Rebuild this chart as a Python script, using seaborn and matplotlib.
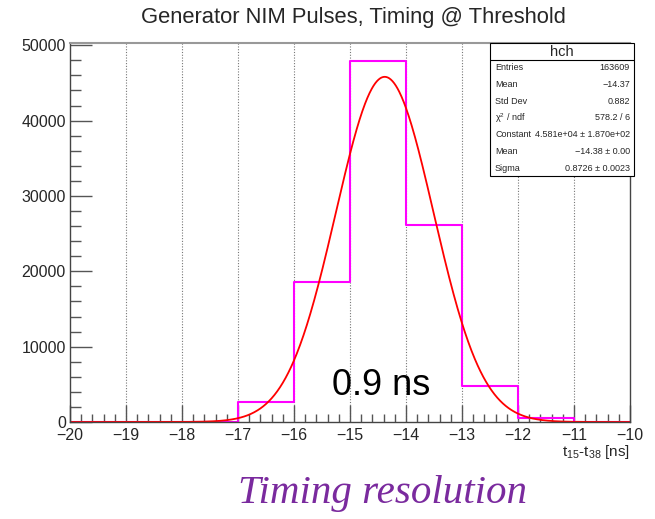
import numpy as np
import pandas as pd
import matplotlib
matplotlib.use("Agg")
import matplotlib.pyplot as plt
from matplotlib.ticker import MultipleLocator, FixedLocator
from matplotlib.patches import Rectangle
import seaborn as sns

# ---- data ----
bin_left = [-20, -19, -18, -17, -16, -15, -14, -13, -12, -11]
bin_counts = [0, 0, 60, 2700, 18600, 47900, 26150, 4750, 480, 0]
bin_edges = [-20, -19, -18, -17, -16, -15, -14, -13, -12, -11, -10]

fit_constant = 4.581e4
fit_mean = -14.38
fit_sigma = 0.8726

stats_labels = ["Entries", "Mean", "Std Dev", "\u03c7$^{2}$ / ndf", "Constant", "Mean", "Sigma"]
stats_values = ["163609", "\u221214.37", "0.882", "578.2 / 6",
                "4.581e+04 \u00b1 1.870e+02", "\u221214.38 \u00b1 0.00", "0.8726 \u00b1 0.0023"]

x_ticks = [-20, -19, -18, -17, -16, -15, -14, -13, -12, -11, -10]
y_ticks = [0, 10000, 20000, 30000, 40000, 50000]

sns.set_style("white")
plt.rcParams["font.family"] = ["Liberation Sans", "DejaVu Sans"]
plt.rcParams["mathtext.fontset"] = "custom"
plt.rcParams["mathtext.rm"] = "Liberation Sans"
plt.rcParams["mathtext.it"] = "Liberation Sans:italic"

fig = plt.figure(figsize=(6.55, 5.19), dpi=100)
ax = fig.add_axes([70 / 655, 1 - 422 / 519, 560 / 655, (422 - 43) / 519])

df = pd.DataFrame({"x": [b + 0.5 for b in bin_left], "w": bin_counts})
sns.histplot(data=df, x="x", weights="w", bins=bin_edges, element="step",
             fill=False, color="#ff00ff", linewidth=1.5, ax=ax)

xs = np.linspace(-20, -10, 1001)
ys = fit_constant * np.exp(-0.5 * ((xs - fit_mean) / fit_sigma) ** 2)
sns.lineplot(x=xs, y=ys, color="#ff0000", linewidth=1.3, ax=ax)

ax.set_xlim(-20, -10)
ax.set_ylim(0, 50300)

for xv in x_ticks[1:-1]:
    ax.axvline(xv, color="#777777", linestyle=(0, (1, 1.5)), linewidth=0.8, zorder=0)

ax.xaxis.set_major_locator(FixedLocator(x_ticks))
ax.xaxis.set_minor_locator(MultipleLocator(0.2))
ax.yaxis.set_major_locator(FixedLocator(y_ticks))
ax.yaxis.set_minor_locator(MultipleLocator(2000))
ax.set_xticklabels([f"\u2212{abs(v)}" for v in x_ticks])
ax.set_yticklabels([str(v) for v in y_ticks])

ax.tick_params(axis="x", which="major", direction="in", length=12, width=1, color="#555555",
               labelsize=11.5, pad=4, bottom=True, top=False)
ax.tick_params(axis="x", which="minor", direction="in", length=6, width=1, color="#555555",
               bottom=True, top=False)
ax.tick_params(axis="y", which="major", direction="in", length=16, width=1, color="#555555",
               labelsize=11.5, pad=3, left=True, right=False)
ax.tick_params(axis="y", which="minor", direction="in", length=8, width=1, color="#555555",
               left=True, right=False)

for side in ["left", "bottom", "right"]:
    ax.spines[side].set_color("#444444")
    ax.spines[side].set_linewidth(1.0)
ax.spines["top"].set_color("#999999")
ax.spines["top"].set_linewidth(1.5)

ax.set_xlabel("")
ax.set_ylabel("")
fig.text(630 / 655, 1 - 452 / 519, "t$_{15}$-t$_{38}$ [ns]", ha="right", va="center", fontsize=11)

fig.text(353 / 655, 1 - 17 / 519, "Generator NIM Pulses, Timing @ Threshold",
         ha="center", va="center", fontsize=15.8)

ax.text(-14.45, 4900, "0.9 ns", ha="center", va="center", fontsize=26, color="black")

# stats box
bx0, bx1 = 490 / 655, 634 / 655
by_top, by_bot = 1 - 43 / 519, 1 - 176 / 519
fig.add_artist(Rectangle((bx0, by_bot), bx1 - bx0, by_top - by_bot, transform=fig.transFigure,
                         facecolor="white", edgecolor="black", linewidth=0.8, zorder=10))
fig.add_artist(plt.Line2D([bx0, bx1], [1 - 60 / 519, 1 - 60 / 519], transform=fig.transFigure,
                          color="black", linewidth=0.8, zorder=11))
fig.text((bx0 + bx1) / 2, 1 - 52 / 519, "hch", ha="center", va="center", fontsize=10.5, zorder=12)
row_y = [68, 84.5, 101, 118, 135, 152, 168]
for lab, val, ry in zip(stats_labels, stats_values, row_y):
    fig.text(bx0 + 5 / 655, 1 - ry / 519, lab, ha="left", va="center", fontsize=6.5, zorder=12)
    fig.text(bx1 - 4 / 655, 1 - ry / 519, val, ha="right", va="center", fontsize=6.5, zorder=12)

fig.text(383 / 655, 1 - 494 / 519, "Timing resolution", ha="center", va="center",
         fontsize=29.5, color="#7a2a9e", style="italic", family=["Liberation Serif", "DejaVu Serif"])

fig.savefig("out.png", dpi=100)
